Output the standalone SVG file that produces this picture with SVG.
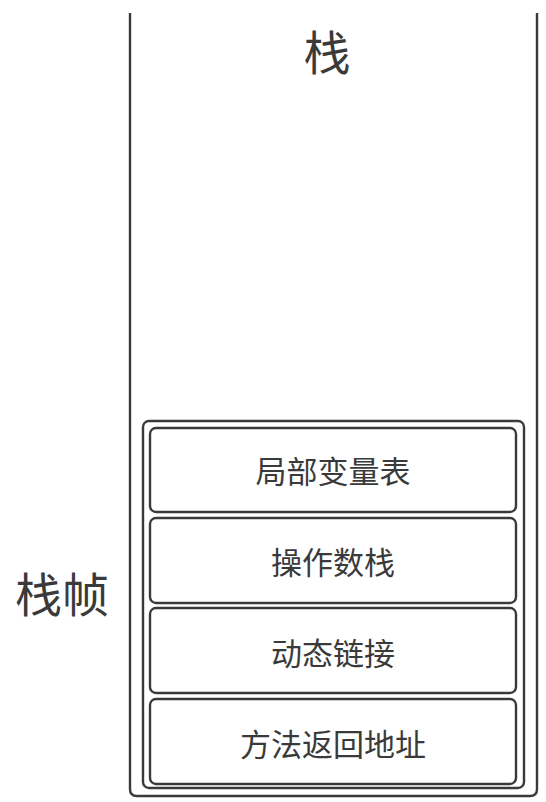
<svg xmlns="http://www.w3.org/2000/svg" width="546" height="802" viewBox="0 0 546 802">
<style>
.ln{fill:none;stroke:#3a3a3a;stroke-width:2.4}
.t{font-family:"Noto Sans CJK SC","Noto Sans",sans-serif;fill:#3a3a3a;text-anchor:middle;dominant-baseline:central}
.box{fill:#fff;stroke:#3a3a3a;stroke-width:2.4}
</style>
<rect width="546" height="802" fill="#fff"/>
<g id="stack">
<path class="ln" d="M130 13 V789 Q130 796 137 796 H530 Q537 796 537 789 V13"/>
<text class="t" x="327" y="49" font-size="47">栈</text>
</g>
<g id="frame">
<rect class="ln" x="143" y="421" width="381" height="367" rx="6"/>
<text class="t" x="62" y="591" font-size="47">栈帧</text>
</g>
<g id="local-vars">
<rect class="box" x="150" y="428" width="366" height="84" rx="6"/>
<text class="t" x="333" y="469" font-size="31">局部变量表</text>
</g>
<g id="operand-stack">
<rect class="box" x="150" y="518" width="366" height="85" rx="6"/>
<text class="t" x="333" y="560" font-size="31">操作数栈</text>
</g>
<g id="dynamic-link">
<rect class="box" x="150" y="608" width="366" height="85" rx="6"/>
<text class="t" x="333" y="651" font-size="31">动态链接</text>
</g>
<g id="return-addr">
<rect class="box" x="150" y="699" width="366" height="85" rx="6"/>
<text class="t" x="333" y="742" font-size="31">方法返回地址</text>
</g>
<g id="connectors"></g>
</svg>
